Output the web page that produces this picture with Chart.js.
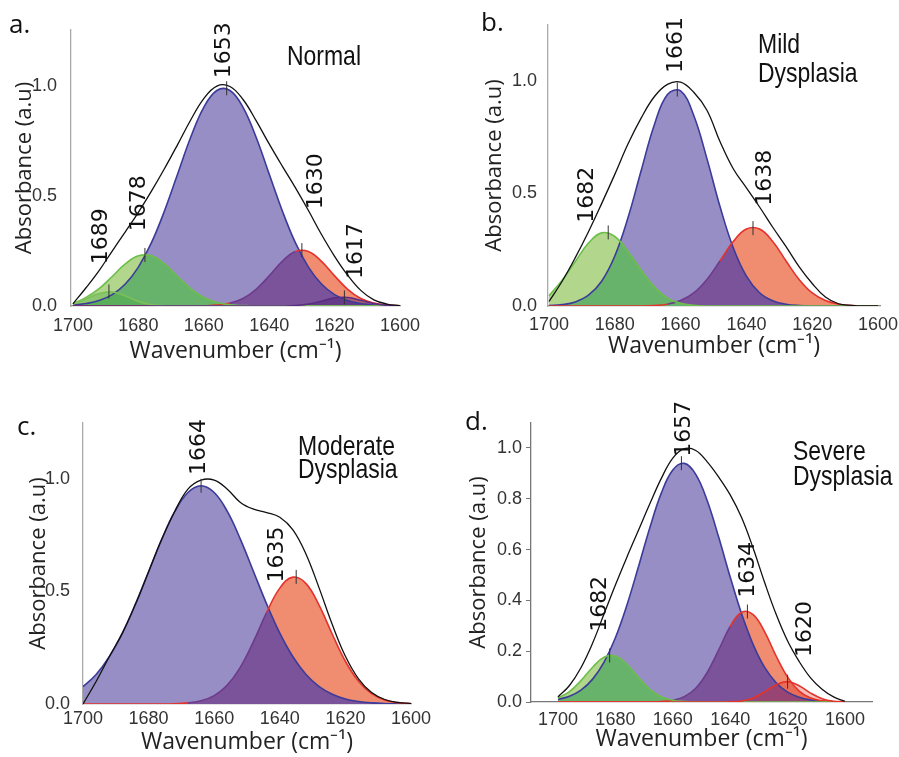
<!DOCTYPE html>
<html><head><meta charset="utf-8">
<script src="https://cdn.jsdelivr.net/npm/chart.js@4.4.1/dist/chart.umd.min.js"></script>
<style>
html,body{margin:0;padding:0;background:#fff;width:899px;height:757px;overflow:hidden;}
canvas{position:absolute;}
</style></head><body>
<canvas id="pa" width="450" height="378" style="left:0;top:0"></canvas>
<canvas id="pb" width="449" height="378" style="left:450px;top:0"></canvas>
<canvas id="pc" width="450" height="379" style="left:0;top:378px"></canvas>
<canvas id="pd" width="449" height="379" style="left:450px;top:378px"></canvas>
<script>
// ---------------- DATA ----------------
const wavenumbers = [1700,1696,1692,1688,1684,1680,1676,1672,1668,1664,1660,1656,1652,1648,1644,1640,1636,1632,1628,1624,1620,1616,1612,1608,1604,1600];
const xTickValues = [1700,1680,1660,1640,1620,1600];
const yTicksHalf = [0,0.5,1.0];
const yTicksFifth = [0,0.2,0.4,0.6,0.8,1.0];

// a. Normal
const normal_1689 = [0.008,0.033,0.057,0.064,0.046,0.021,0.006,0.001,0,0,0,0,0,0,0,0,0,0,0,0,0,0,0,0,0,0];
const normal_1678 = [0.010,0.039,0.079,0.134,0.191,0.228,0.228,0.191,0.134,0.079,0.039,0.016,0.005,0.002,0,0,0,0,0,0,0,0,0,0,0,0];
const normal_1653 = [0.004,0.011,0.025,0.052,0.100,0.177,0.288,0.433,0.600,0.767,0.903,0.980,0.980,0.903,0.767,0.600,0.433,0.288,0.177,0.100,0.052,0.025,0.011,0.004,0.002,0.000];
const normal_1630 = [0,0,0,0,0,0,0,0,0,0,0.001,0.004,0.013,0.034,0.076,0.137,0.203,0.248,0.248,0.203,0.137,0.076,0.034,0.013,0.004,0.001];
const normal_1617 = [0,0,0,0,0,0,0,0,0,0,0,0,0,0,0,0,0,0.002,0.009,0.022,0.037,0.039,0.026,0.011,0.003,0.001];
const normal_fit  = [0.010,0.083,0.161,0.250,0.337,0.426,0.522,0.625,0.734,0.846,0.943,1.000,0.998,0.939,0.843,0.737,0.636,0.538,0.434,0.325,0.226,0.140,0.071,0.028,0.009,0.002];
const normal_peaks = [1689,1678,1653,1630,1617];
const normal_peakHeights = [0.066,0.232,0.990,0.254,0.039];

// b. Mild dysplasia
const mild_1682 = [0.045,0.115,0.198,0.280,0.325,0.309,0.242,0.160,0.085,0.035,0.012,0.003,0,0,0,0,0,0,0,0,0,0,0,0,0,0];
const mild_1661 = [0.002,0.006,0.018,0.048,0.110,0.222,0.392,0.601,0.805,0.940,0.956,0.847,0.655,0.441,0.259,0.133,0.059,0.023,0.008,0.002,0,0,0,0,0,0];
const mild_1638 = [0,0,0,0,0,0,0,0,0.002,0.008,0.024,0.058,0.118,0.201,0.287,0.342,0.342,0.287,0.201,0.118,0.058,0.024,0.008,0.002,0,0];
const mild_fit  = [0.020,0.110,0.215,0.330,0.455,0.585,0.720,0.835,0.930,0.985,0.995,0.950,0.870,0.730,0.610,0.525,0.440,0.350,0.265,0.175,0.100,0.040,0.010,0.003,0,0];
const mild_peaks = [1682,1661,1638];
const mild_peakHeights = [0.327,0.962,0.346];

// c. Moderate dysplasia
const moderate_1664 = [0.077,0.131,0.210,0.315,0.444,0.588,0.732,0.856,0.940,0.970,0.940,0.856,0.732,0.588,0.444,0.315,0.210,0.131,0.077,0.043,0.022,0.011,0.005,0.002,0.001,0];
const moderate_1635 = [0,0,0,0,0,0,0,0.001,0.005,0.014,0.037,0.084,0.164,0.278,0.407,0.515,0.564,0.535,0.438,0.310,0.190,0.101,0.046,0.018,0.006,0.002];
const moderate_fit  = [0.000,0.100,0.210,0.315,0.444,0.588,0.732,0.857,0.955,0.995,0.995,0.955,0.896,0.866,0.851,0.830,0.774,0.666,0.515,0.353,0.212,0.112,0.051,0.020,0.007,0.002];
const moderate_peaks = [1664,1635];
const moderate_peakHeights = [0.970,0.565];

// d. Severe dysplasia
const severe_1682 = [0.016,0.041,0.084,0.136,0.176,0.181,0.148,0.097,0.050,0.021,0.007,0.002,0,0,0,0,0,0,0,0,0,0,0,0,0,0];
const severe_1657 = [0.010,0.023,0.047,0.089,0.156,0.253,0.381,0.531,0.686,0.822,0.913,0.939,0.896,0.792,0.648,0.492,0.346,0.226,0.136,0.076,0.039,0.019,0.008,0.003,0.001,0];
const severe_1634 = [0,0,0,0,0,0,0,0,0,0.002,0.007,0.021,0.054,0.116,0.205,0.297,0.353,0.344,0.276,0.181,0.098,0.043,0.016,0.005,0.001,0];
const severe_1620 = [0,0,0,0,0,0,0,0,0,0,0,0,0,0,0,0.001,0.004,0.016,0.040,0.068,0.080,0.064,0.035,0.013,0.003,0.001];
const severe_fit  = [0.020,0.065,0.135,0.230,0.345,0.460,0.570,0.675,0.780,0.880,0.960,0.997,0.990,0.945,0.885,0.815,0.725,0.605,0.470,0.345,0.240,0.160,0.095,0.050,0.020,0.003];
const severe_peaks = [1682,1657,1634,1620];
const severe_peakHeights = [0.183,0.940,0.356,0.080];

// ---------------- STYLE ----------------
const C = {
  blueFill:'#968EC4', blueLine:'#3B3B9A',
  redFill:'#F08C70', redLine:'#E5322B', redInner:'#6E3B8C',
  greenFill:'#B2D68C', greenLine:'#6CBF4A',
  purpleOverlap:'#7B539B', greenOverlap:'#67B36B', fit:'#111111'
};
const TICK_FONT = {family:"'Liberation Sans',Arial,sans-serif", size:18};
const XTITLE_FONT = {family:"'Open Sans',sans-serif", size:23};
const YTITLE_FONT = {family:"'Open Sans',sans-serif", size:22};
const PEAK_FONT = "22px 'DejaVu Sans', sans-serif";
const COND_FONT = "28px 'Liberation Sans',Arial,sans-serif";   // drawn horizontally condensed
const COND_SCALE = 0.82;
const LETTER_FONT = "26px 'Open Sans',sans-serif";

// label anchor (wavenumber, absorbance) where each rotated peak label starts
const labelAnchors = {
  pa: [[1692.0,0.19],[1680.4,0.34],[1654.4,1.036],[1626.3,0.44],[1614.1,0.123]],
  pb: [[1689.1,0.37],[1662.0,1.036],[1635.0,0.446]],
  pc: [[1665.2,1.018],[1641.5,0.54]],
  pd: [[1686.2,0.276],[1656.9,0.965],[1634.6,0.41],[1614.8,0.177]]
};

const panels = {
  pa: {
    fit: normal_fit, peaks: normal_peaks, heights: normal_peakHeights,
    components: [
      {key:'1617', values: normal_1617, line:'#5B2C83'},
      {key:'1689', values: normal_1689, line:'#7CC05A'},
      {key:'1678', values: normal_1678, line:C.greenLine, fill:C.greenFill},
      {key:'1630', values: normal_1630, line:C.redLine, fill:C.redFill, inner:'1653'},
      {key:'1653', values: normal_1653, line:C.blueLine, fill:C.blueFill}
    ],
    layers: [
      {under:'1653', of:'1630', color:C.purpleOverlap},
      {under:'1653', of:'1678', color:C.greenOverlap},
      {of:'1689', color:'rgba(70,165,60,0.35)'},
      {of:'1617', color:'rgba(70,25,110,0.40)'}
    ],
    padding:{left:12, top:30, right:50, bottom:13}, yAxisW:59, xAxisH:59, xPad:1,
    xMin:1600, xMax:1700.6, yMax:1.255, yTicks:yTicksHalf, yPad:6, yBorder:'#aaaaaa', xBorder:'#888888',
    texts:[{t:'a.', x:9, y:33, f:LETTER_FONT},{t:'Normal', x:287, y:65, f:COND_FONT, s:COND_SCALE}]
  },
  pb: {
    fit: mild_fit, peaks: mild_peaks, heights: mild_peakHeights,
    components: [
      {key:'1682', values: mild_1682, line:C.greenLine, fill:C.greenFill},
      {key:'1638', values: mild_1638, line:C.redLine, fill:C.redFill, inner:'1661'},
      {key:'1661', values: mild_1661, line:C.blueLine, fill:C.blueFill}
    ],
    layers: [
      {under:'1661', of:'1638', color:C.purpleOverlap},
      {under:'1661', of:'1682', color:C.greenOverlap}
    ],
    padding:{left:32, top:25, right:19, bottom:18}, yAxisW:66, xAxisH:54, xPad:0.5,
    xMin:1599.4, xMax:1700.3, yMax:1.249, yTicks:yTicksHalf, yPad:3, yBorder:'#aaaaaa', xBorder:'#888888',
    texts:[{t:'b.', x:31, y:31, f:LETTER_FONT},{t:'Mild', x:308, y:53, f:COND_FONT, s:COND_SCALE},{t:'Dysplasia', x:308, y:82, f:COND_FONT, s:COND_SCALE}]
  },
  pc: {
    fit: moderate_fit, peaks: moderate_peaks, heights: moderate_peakHeights,
    components: [
      {key:'1635', values: moderate_1635, line:C.redLine, fill:C.redFill, inner:'1664'},
      {key:'1664', values: moderate_1664, line:C.blueLine, fill:C.blueFill}
    ],
    layers: [
      {under:'1664', of:'1635', color:C.purpleOverlap}
    ],
    padding:{left:26, top:45, right:39, bottom:1}, yAxisW:57, xAxisH:52, xPad:-3.5,
    xMin:1600, xMax:1700, yMax:1.249, yTicks:yTicksHalf, yPad:5, yBorder:'#aaaaaa', xBorder:'#888888',
    texts:[{t:'c.', x:17, y:57, f:LETTER_FONT},{t:'Moderate', x:298, y:77, f:COND_FONT, s:COND_SCALE},{t:'Dysplasia', x:298, y:100, f:COND_FONT, s:COND_SCALE}]
  },
  pd: {
    fit: severe_fit, peaks: severe_peaks, heights: severe_peakHeights,
    components: [
      {key:'1620', values: severe_1620, line:C.redLine},
      {key:'1682', values: severe_1682, line:C.greenLine, fill:C.greenFill},
      {key:'1634', values: severe_1634, line:C.redLine, fill:C.redFill, inner:'1657'},
      {key:'1657', values: severe_1657, line:C.blueLine, fill:C.blueFill}
    ],
    layers: [
      {under:'1657', of:'1634', color:C.purpleOverlap},
      {under:'1657', of:'1682', color:C.greenOverlap},
      {of:'1620', color:'rgba(220,35,25,0.30)'}
    ],
    padding:{left:16, top:45, right:27, bottom:4}, yAxisW:65, xAxisH:51, xPad:-0.5,
    xMin:1590.6, xMax:1709.4, yMax:1.098, yTicks:yTicksFifth, yPad:4, yTickMarks:true, yBorder:'#777777', xBorder:'#777777',
    texts:[{t:'d.', x:15, y:52, f:LETTER_FONT},{t:'Severe', x:343, y:82, f:COND_FONT, s:COND_SCALE},{t:'Dysplasia', x:343, y:107, f:COND_FONT, s:COND_SCALE}]
  }
};

// ---------------- DRAWING ----------------
function toXY(vals){ return wavenumbers.map((w,i)=>({x:w, y:vals[i]})); }

function dsIndex(spec, key){ return 1 + spec.components.findIndex(c => c.key === key); }

// closed area under a dataset's drawn curve (uses the library's computed points/control points)
function areaPath(chart, idx){
  const meta = chart.getDatasetMeta(idx);
  const line = meta.dataset, pts = meta.data, ctx = chart.ctx;
  const base = chart.scales.y.getPixelForValue(0);
  if (line.updateControlPoints) line.updateControlPoints(chart.chartArea, 'x');
  ctx.beginPath();
  ctx.moveTo(pts[0].x, pts[0].y);
  for (let i = 1; i < pts.length; i++) {
    const p = pts[i-1], q = pts[i];
    if (p.cp2x !== undefined && q.cp1x !== undefined) ctx.bezierCurveTo(p.cp2x, p.cp2y, q.cp1x, q.cp1y, q.x, q.y);
    else ctx.lineTo(q.x, q.y);
  }
  ctx.lineTo(pts[pts.length-1].x, base);
  ctx.lineTo(pts[0].x, base);
  ctx.closePath();
}

const decorPlugin = {
  id:'panelDecor',
  beforeDatasetsDraw(chart){
    const spec = panels[chart.canvas.id]; const ctx = chart.ctx; const a = chart.chartArea;
    spec.layers.forEach(L => {
      ctx.save();
      ctx.beginPath(); ctx.rect(a.left, a.top, a.right - a.left, a.bottom - a.top); ctx.clip();
      if (L.under) { areaPath(chart, dsIndex(spec, L.under)); ctx.clip(); }
      areaPath(chart, dsIndex(spec, L.of));
      ctx.fillStyle = L.color; ctx.fill();
      ctx.restore();
    });
  },
  afterDatasetsDraw(chart){
    const id = chart.canvas.id, spec = panels[id], ctx = chart.ctx;
    const xs = chart.scales.x, ys = chart.scales.y;
    spec.peaks.forEach((w, i) => {
      const px = xs.getPixelForValue(w), py = ys.getPixelForValue(spec.heights[i]);
      ctx.save();
      ctx.strokeStyle = '#333'; ctx.lineWidth = 1;
      ctx.beginPath(); ctx.moveTo(px, py - 7); ctx.lineTo(px, py + 7); ctx.stroke();
      const an = labelAnchors[id][i];
      const lx = xs.getPixelForValue(an[0]), ly = ys.getPixelForValue(an[1]);
      ctx.translate(lx, ly); ctx.rotate(-Math.PI/2);
      ctx.font = PEAK_FONT; ctx.fillStyle = '#111'; ctx.textAlign = 'left'; ctx.textBaseline = 'alphabetic';
      ctx.fillText(String(w), 0, 8);
      ctx.restore();
    });
  },
  afterDraw(chart){
    const spec = panels[chart.canvas.id], ctx = chart.ctx;
    spec.texts.forEach(t => {
      const s = t.s || 1;
      ctx.save(); ctx.font = t.f; ctx.fillStyle = '#111'; ctx.textAlign = 'left'; ctx.textBaseline = 'alphabetic';
      ctx.scale(s, 1);
      ctx.fillText(t.t, t.x / s, t.y); ctx.restore();
    });
  }
};

function makeChart(id){
  const spec = panels[id];
  const datasets = [{label:'Fit', data: toXY(spec.fit), borderColor: C.fit, borderWidth: 1.3, fill: false, order: 0}];
  spec.components.forEach((c, i) => {
    const ds = {label: c.key, data: toXY(c.values), borderColor: c.line, borderWidth: 1.6,
      fill: c.fill ? 'origin' : false, backgroundColor: c.fill || 'rgba(0,0,0,0)', order: i + 1};
    if (c.inner) {
      const under = spec.components.find(o => o.key === c.inner).values, v = c.values;
      ds.segment = {borderColor: s => (under[s.p0DataIndex] > v[s.p0DataIndex] && under[s.p1DataIndex] > v[s.p1DataIndex] && v[s.p0DataIndex] > 0.004) ? C.redInner : undefined};
    }
    datasets.push(ds);
  });
  new Chart(document.getElementById(id), {
    type: 'line',
    data: {datasets},
    plugins: [decorPlugin],
    options: {
      responsive: false, animation: false, devicePixelRatio: 1, events: [],
      layout: {padding: spec.padding},
      elements: {point: {radius: 0}, line: {tension: 0.4}},
      plugins: {legend: {display: false}, tooltip: {enabled: false}, filler: {drawTime: 'beforeDatasetsDraw'}},
      scales: {
        x: {
          type: 'linear', reverse: true, min: spec.xMin, max: spec.xMax,
          afterBuildTicks: s => { s.ticks = xTickValues.map(v => ({value: v})); },
          afterFit: s => { s.height = spec.xAxisH; },
          grid: {display: false},
          border: {display: true, color: spec.xBorder, width: 1.3},
          ticks: {font: TICK_FONT, color: '#333', padding: spec.xPad, maxRotation: 0, autoSkip: false, callback: v => String(v)},
          title: {display: true, text: 'Wavenumber (cm\u207B\u00B9)', font: XTITLE_FONT, color: '#222', padding: 0}
        },
        y: {
          type: 'linear', min: 0, max: spec.yMax,
          afterBuildTicks: s => { s.ticks = spec.yTicks.map(v => ({value: v})); },
          afterFit: s => { s.width = spec.yAxisW; },
          grid: spec.yTickMarks ? {display: true, drawOnChartArea: false, drawTicks: true, tickLength: 5, color: '#777'} : {display: false},
          border: {display: true, color: spec.yBorder, width: 1.3},
          ticks: {font: TICK_FONT, color: '#333', padding: spec.yPad, callback: v => Number(v).toFixed(1)},
          title: {display: true, text: 'Absorbance (a.u)', font: YTITLE_FONT, color: '#222', padding: 0}
        }
      }
    }
  });
}
['pa','pb','pc','pd'].forEach(makeChart);
</script>
</body></html>
